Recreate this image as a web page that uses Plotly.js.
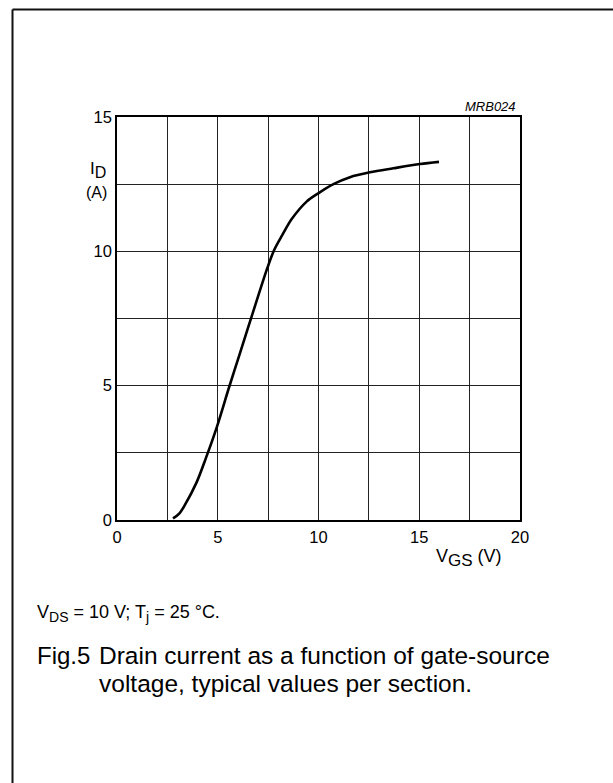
<!DOCTYPE html>
<html>
<head>
<meta charset="utf-8">
<script src="https://cdn.plot.ly/plotly-3.0.1.min.js"></script>
<style>
  html, body { margin: 0; padding: 0; background: #fff; }
  #chart { width: 613px; height: 783px; }
</style>
</head>
<body>
<div id="chart"></div>
<script>
// Data
const vgs = [2.78, 3.10, 3.37, 3.95, 4.42, 4.95, 5.57, 6.10, 6.68, 7.43, 7.80, 8.20, 8.67, 9.41, 9.99, 10.74, 11.56, 12.55, 13.71, 15.04, 15.98];
const idA = [0.06, 0.25, 0.56, 1.40, 2.32, 3.45, 4.96, 6.20, 7.57, 9.31, 10.05, 10.60, 11.20, 11.85, 12.16, 12.50, 12.76, 12.94, 13.09, 13.25, 13.33];

const xGridVals = [0, 2.5, 5, 7.5, 10, 12.5, 15, 17.5, 20];
const xTickText = ['0', '', '5', '', '10', '', '15', '', '20'];
const yGridVals = [0, 2.5, 5, 7.5, 10, 12.5, 15];
const yTickText = ['0', '', '5', '', '10', '', '15'];

const W = 613, H = 783;
const L = 117, R = 520, T = 117, B = 520;
const pw = R - L, ph = B - T;
const px = v => (v - L) / pw;
const py = v => (B - v) / ph;

const FONT = 'Liberation Sans, Arial, Helvetica, sans-serif';

const trace = {
  x: vgs, y: idA, type: 'scatter', mode: 'lines',
  line: { color: '#000', width: 2.6, shape: 'spline', smoothing: 0.9 },
  hoverinfo: 'skip'
};

const axisCommon = {
  showline: true, linecolor: '#000', linewidth: 1.8, mirror: true,
  showgrid: true, gridcolor: '#222', gridwidth: 1,
  zeroline: false, ticks: '', tickmode: 'array',
  tickfont: { family: FONT, size: 16.5, color: '#000' }
};

const layout = {
  width: W, height: H,
  margin: { l: L, r: W - R, t: T, b: H - B, pad: 0 },
  paper_bgcolor: '#fff', plot_bgcolor: '#fff',
  showlegend: false,
  xaxis: Object.assign({}, axisCommon, {
    range: [0, 20], tickvals: xGridVals, ticktext: xTickText, ticklabelstandoff: 1
  }),
  yaxis: Object.assign({}, axisCommon, {
    range: [0, 15], tickvals: yGridVals, ticktext: yTickText, ticklabelstandoff: 0
  }),
  shapes: [
    { type: 'line', xref: 'paper', yref: 'paper', x0: px(12.5), x1: px(12.5), y0: py(9.5), y1: py(H + 5), line: { color: '#111', width: 2 } },
    { type: 'line', xref: 'paper', yref: 'paper', x0: px(12.5), x1: px(W + 5), y0: py(9.5), y1: py(9.5), line: { color: '#111', width: 2 } }
  ],
  annotations: [
    { xref: 'paper', yref: 'paper', x: px(518), y: py(106), xanchor: 'right', yanchor: 'middle', showarrow: false,
      text: '<i>MRB024</i>', font: { family: FONT, size: 13, color: '#000' } },
    { xref: 'paper', yref: 'paper', x: px(88), y: py(170), xanchor: 'left', yanchor: 'middle', showarrow: false,
      text: 'I<sub><span style="font-size:16px">D</span></sub>', font: { family: FONT, size: 17, color: '#000' } },
    { xref: 'paper', yref: 'paper', x: px(96.5), y: py(192), xanchor: 'center', yanchor: 'middle', showarrow: false,
      text: '(A)', font: { family: FONT, size: 16, color: '#000' } },
    { xref: 'paper', yref: 'paper', x: px(434), y: py(558), xanchor: 'left', yanchor: 'middle', showarrow: false,
      text: 'V<sub><span style="font-size:17px">GS</span></sub> (V)', font: { family: FONT, size: 18, color: '#000' } },
    { xref: 'paper', yref: 'paper', x: px(35), y: py(613), xanchor: 'left', yanchor: 'middle', showarrow: false,
      text: 'V<sub><span style="font-size:14px">DS</span></sub> = 10 V; T<sub><span style="font-size:14px">j</span></sub> = 25 °C.', font: { family: FONT, size: 18, color: '#000' } },
    { xref: 'paper', yref: 'paper', x: px(35), y: py(655), xanchor: 'left', yanchor: 'middle', showarrow: false,
      text: 'Fig.5', font: { family: FONT, size: 24, color: '#000' } },
    { xref: 'paper', yref: 'paper', x: px(97), y: py(655), xanchor: 'left', yanchor: 'middle', showarrow: false,
      text: 'Drain current as a function of gate-source', font: { family: FONT, size: 24.5, color: '#000' } },
    { xref: 'paper', yref: 'paper', x: px(97), y: py(683), xanchor: 'left', yanchor: 'middle', showarrow: false,
      text: 'voltage, typical values per section.', font: { family: FONT, size: 24.5, color: '#000' } }
  ]
};

Plotly.newPlot('chart', [trace], layout, { staticPlot: true, displayModeBar: false });
</script>
</body>
</html>
